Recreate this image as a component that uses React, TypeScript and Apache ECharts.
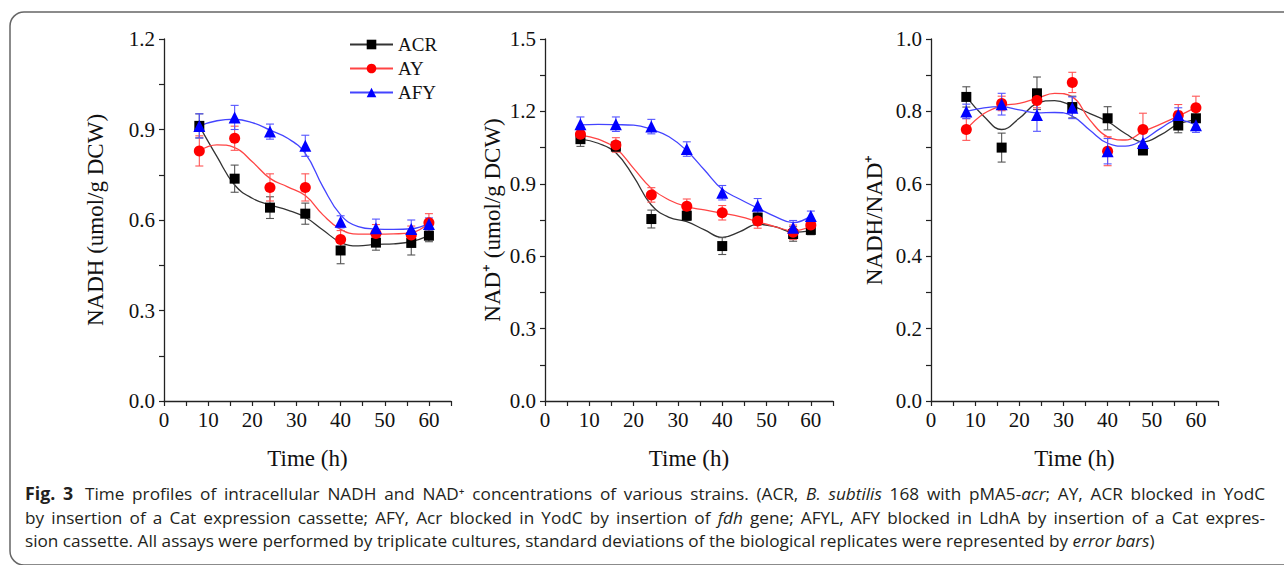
import React, { useEffect, useRef } from "react";
import * as echarts from "echarts";

// ---------- data ----------
const hours = [8, 16, 24, 32, 40, 48, 56, 60];
const curveHours = [8, 12, 16, 20, 24, 28, 32, 36, 40, 44, 48, 52, 56, 60];
const strains = ["ACR", "AY", "AFY"];

// Panel A: NADH (umol/g DCW)
const nadhACR = [0.912, 0.737, 0.641, 0.621, 0.499, 0.525, 0.524, 0.548];
const nadhACRErr = [0.04, 0.045, 0.036, 0.035, 0.044, 0.025, 0.04, 0.02];
const nadhAY = [0.829, 0.871, 0.708, 0.708, 0.535, 0.555, 0.55, 0.591];
const nadhAYErr = [0.05, 0.04, 0.045, 0.045, 0.03, 0.03, 0.03, 0.03];
const nadhAFY = [0.912, 0.94, 0.893, 0.846, 0.594, 0.573, 0.57, 0.587];
const nadhAFYErr = [0.04, 0.04, 0.025, 0.035, 0.02, 0.03, 0.03, 0.02];
const nadhACRFit = [0.912, 0.81, 0.716, 0.672, 0.65, 0.633, 0.609, 0.567, 0.526, 0.514, 0.519, 0.521, 0.528, 0.548];
const nadhAYFit = [0.829, 0.849, 0.84, 0.793, 0.738, 0.71, 0.681, 0.617, 0.569, 0.553, 0.553, 0.554, 0.558, 0.589];
const nadhAFYFit = [0.912, 0.929, 0.934, 0.923, 0.898, 0.871, 0.821, 0.71, 0.617, 0.578, 0.57, 0.569, 0.571, 0.589];

// Panel B: NAD+ (umol/g DCW)
const nadACR = [1.085, 1.054, 0.754, 0.768, 0.642, 0.76, 0.692, 0.709];
const nadACRErr = [0.03, 0.02, 0.037, 0.02, 0.035, 0.03, 0.03, 0.02];
const nadAY = [1.105, 1.061, 0.854, 0.807, 0.78, 0.746, 0.699, 0.729];
const nadAYErr = [0.03, 0.03, 0.03, 0.03, 0.03, 0.03, 0.03, 0.02];
const nadAFY = [1.147, 1.147, 1.137, 1.044, 0.863, 0.809, 0.718, 0.767];
const nadAFYErr = [0.03, 0.03, 0.03, 0.03, 0.03, 0.03, 0.03, 0.02];
const nadACRFit = [1.085, 1.068, 1.029, 0.93, 0.812, 0.761, 0.743, 0.709, 0.678, 0.702, 0.732, 0.722, 0.699, 0.705];
const nadAYFit = [1.102, 1.085, 1.047, 0.964, 0.881, 0.833, 0.805, 0.792, 0.778, 0.764, 0.743, 0.722, 0.705, 0.725];
const nadAFYFit = [1.144, 1.146, 1.145, 1.143, 1.126, 1.095, 1.037, 0.957, 0.877, 0.836, 0.799, 0.764, 0.739, 0.767];

// Panel C: NADH/NAD+
const ratioACR = [0.84, 0.7, 0.85, 0.812, 0.781, 0.692, 0.761, 0.781];
const ratioACRErr = [0.028, 0.04, 0.045, 0.03, 0.032, 0.01, 0.02, 0.025];
const ratioAY = [0.75, 0.822, 0.83, 0.88, 0.69, 0.75, 0.789, 0.81];
const ratioAYErr = [0.03, 0.02, 0.02, 0.028, 0.04, 0.045, 0.03, 0.032];
const ratioAFY = [0.8, 0.82, 0.79, 0.81, 0.69, 0.713, 0.79, 0.762];
const ratioAFYErr = [0.02, 0.03, 0.045, 0.03, 0.035, 0.03, 0.02, 0.02];
const ratioACRFit = [0.84, 0.786, 0.75, 0.781, 0.822, 0.83, 0.815, 0.794, 0.772, 0.739, 0.716, 0.735, 0.765, 0.776];
const ratioAYFit = [0.75, 0.794, 0.815, 0.822, 0.836, 0.85, 0.84, 0.776, 0.73, 0.721, 0.744, 0.765, 0.787, 0.811];
const ratioAFYFit = [0.8, 0.81, 0.813, 0.804, 0.796, 0.797, 0.787, 0.748, 0.712, 0.704, 0.721, 0.753, 0.776, 0.762];

const xTicks = [0, 10, 20, 30, 40, 50, 60];
const yLabelsA = ["0.0", "0.3", "0.6", "0.9", "1.2"];
const yLabelsB = ["0.0", "0.3", "0.6", "0.9", "1.2", "1.5"];
const yLabelsC = ["0.0", "0.2", "0.4", "0.6", "0.8", "1.0"];

// caption: **bold**, *italic*
const captionLines = [
  "**Fig. 3**  Time profiles of intracellular NADH and NAD\u207A concentrations of various strains. (ACR, *B. subtilis* 168 with pMA5-*acr*; AY, ACR blocked in YodC",
  "by insertion of a Cat expression cassette; AFY, Acr blocked in YodC by insertion of *fdh* gene; AFYL, AFY blocked in LdhA by insertion of a Cat expres-",
  "sion cassette. All assays were performed by triplicate cultures, standard deviations of the biological replicates were represented by *error bars*)",
];
const captionJustify = [true, true, false];

// ---------- styling ----------
const SERIF = "Liberation Serif, Times New Roman, serif";
const SANS_CSS = '"Open Sans", "Noto Sans", "DejaVu Sans", sans-serif';
const SANS = "Open Sans, Noto Sans, DejaVu Sans, sans-serif";
const CAP_SIZE = 17.2;
const CAP_LEFT = 25;
const CAP_RIGHT = 1265;
const CAP_Y = [493, 517, 540];
const colors = ["#000000", "#ff0000", "#0000ff"];
const lineColors = ["#333333", "#ff4444", "#4444ff"];
const errColors = ["#555555", "#ff5555", "#5555ff"];
const symbols = ["rect", "circle", "triangle"];
const symbolSizes = [10, 11, 12];

const grids = [
  { left: 164, top: 39, width: 287, height: 362 },
  { left: 545, top: 39, width: 288, height: 362 },
  { left: 931, top: 39, width: 287, height: 362 },
];

const panels = [
  {
    means: [nadhACR, nadhAY, nadhAFY],
    errs: [nadhACRErr, nadhAYErr, nadhAFYErr],
    fits: [nadhACRFit, nadhAYFit, nadhAFYFit],
    max: 1.2, step: 0.15, labels: yLabelsA,
    name: "NADH (umol/g DCW)", nameGap: 57,
  },
  {
    means: [nadACR, nadAY, nadAFY],
    errs: [nadACRErr, nadAYErr, nadAFYErr],
    fits: [nadACRFit, nadAYFit, nadAFYFit],
    max: 1.5, step: 0.15, labels: yLabelsB,
    name: "NAD\u207A (umol/g DCW)", nameGap: 41,
  },
  {
    means: [ratioACR, ratioAY, ratioAFY],
    errs: [ratioACRErr, ratioAYErr, ratioAFYErr],
    fits: [ratioACRFit, ratioAYFit, ratioAFYFit],
    max: 1.0, step: 0.1, labels: yLabelsC,
    name: "NADH/NAD\u207A", nameGap: 45,
  },
];

type Seg = { text: string; bold: boolean; italic: boolean };
type Word = { segs: Seg[]; spaceBefore: number };

function parseLine(line: string): Word[] {
  const words: Word[] = [];
  let bold = false;
  let italic = false;
  let cur: Seg[] = [];
  let buf = "";
  let pendingSpaces = 0;
  const flushSeg = () => {
    if (buf) cur.push({ text: buf, bold, italic });
    buf = "";
  };
  let i = 0;
  while (i < line.length) {
    if (line.startsWith("**", i)) {
      flushSeg();
      bold = !bold;
      i += 2;
    } else if (line[i] === "*") {
      flushSeg();
      italic = !italic;
      i += 1;
    } else if (line[i] === " ") {
      flushSeg();
      if (cur.length) {
        words.push({ segs: cur, spaceBefore: words.length ? pendingSpaces : 0 });
        cur = [];
        pendingSpaces = 0;
      }
      pendingSpaces += 1;
      i += 1;
    } else {
      buf += line[i];
      i += 1;
    }
  }
  flushSeg();
  if (cur.length) words.push({ segs: cur, spaceBefore: words.length ? pendingSpaces : 0 });
  // double spaces count as 1.5 units
  words.forEach((w) => { if (w.spaceBefore > 1) w.spaceBefore = 1.5; });
  return words;
}

function segSize(s: Seg) {
  return s.bold ? CAP_SIZE + 0.6 : CAP_SIZE;
}

function segFont(s: Seg) {
  return `${s.italic ? "italic " : ""}${s.bold ? "bold " : ""}${segSize(s)}px ${SANS_CSS}`;
}

function captionGraphics(): any[] {
  const canvas = document.createElement("canvas");
  const ctx = canvas.getContext("2d")!;
  const measure = (s: Seg) => {
    ctx.font = segFont(s);
    return ctx.measureText(s.text).width;
  };
  ctx.font = `${CAP_SIZE}px ${SANS_CSS}`;
  const spaceW = ctx.measureText(" ").width;
  const out: any[] = [];
  captionLines.forEach((line, li) => {
    const words = parseLine(line);
    const widths = words.map((w) => w.segs.map(measure));
    const wordW = widths.map((ws) => ws.reduce((a, b) => a + b, 0));
    const totalWords = wordW.reduce((a, b) => a + b, 0);
    const totalSpaceUnits = words.reduce((a, w) => a + w.spaceBefore, 0);
    let unit = spaceW;
    if (captionJustify[li] && totalSpaceUnits > 0) {
      unit = (CAP_RIGHT - CAP_LEFT - totalWords) / totalSpaceUnits;
    }
    let x = CAP_LEFT;
    words.forEach((w, wi) => {
      x += w.spaceBefore * unit;
      w.segs.forEach((s, si) => {
        out.push({
          type: "text",
          x,
          y: CAP_Y[li],
          silent: true,
          style: {
            text: s.text,
            fill: "#231f20",
            fontFamily: SANS,
            fontSize: segSize(s),
            fontWeight: s.bold ? "bold" : "normal",
            fontStyle: s.italic ? "italic" : "normal",
            verticalAlign: "middle",
            align: "left",
          },
        });
        x += widths[wi][si];
      });
    });
  });
  return out;
}

function buildOption() {
  const xAxis: any[] = [];
  const yAxis: any[] = [];
  const series: any[] = [];

  panels.forEach((p, pi) => {
    xAxis.push({
      type: "value",
      gridIndex: pi,
      min: 0,
      max: 65,
      interval: 5,
      name: "Time (h)",
      nameLocation: "middle",
      nameGap: 46,
      nameTextStyle: { fontFamily: SERIF, fontSize: 23, color: "#111" },
      axisLine: { show: true, onZero: false, lineStyle: { color: "#222", width: 1.3 } },
      axisTick: { show: true, inside: false, length: 5, lineStyle: { color: "#222", width: 1.2 } },
      axisLabel: {
        margin: 8,
        fontFamily: SERIF,
        fontSize: 21,
        color: "#111",
        formatter: (v: number) => {
          const t = xTicks.indexOf(Math.round(v));
          return t >= 0 && Math.abs(v - xTicks[t]) < 1e-6 ? String(xTicks[t]) : "";
        },
      },
      splitLine: { show: false },
    });
    yAxis.push({
      type: "value",
      gridIndex: pi,
      min: 0,
      max: p.max,
      interval: p.step,
      name: p.name,
      nameLocation: "middle",
      nameGap: p.nameGap,
      nameRotate: 90,
      nameTextStyle: { fontFamily: SERIF, fontSize: 23, color: "#111" },
      axisLine: { show: true, onZero: false, lineStyle: { color: "#222", width: 1.3 } },
      axisTick: { show: true, inside: false, length: 5, lineStyle: { color: "#222", width: 1.2 } },
      axisLabel: {
        margin: 9,
        fontFamily: SERIF,
        fontSize: 21,
        color: "#111",
        formatter: (v: number) => {
          const k = Math.round(v / p.step);
          return k % 2 === 0 ? p.labels[k / 2] ?? "" : "";
        },
      },
      splitLine: { show: false },
    });

    strains.forEach((s, si) => {
      series.push({
        type: "line",
        name: s,
        xAxisIndex: pi,
        yAxisIndex: pi,
        data: curveHours.map((h, i) => [h, p.fits[si][i]]),
        smooth: 0.45,
        symbol: symbols[si],
        showSymbol: false,
        lineStyle: { color: lineColors[si], width: 1.3 },
        itemStyle: { color: colors[si] },
        z: 2,
        silent: true,
      });
      series.push({
        type: "custom",
        name: s + " error",
        xAxisIndex: pi,
        yAxisIndex: pi,
        data: hours.map((h, i) => [h, p.means[si][i] - p.errs[si][i], p.means[si][i] + p.errs[si][i]]),
        encode: { x: 0, y: [1, 2] },
        z: 3,
        silent: true,
        renderItem: (params: any, api: any) => {
          const x = api.value(0);
          const lo = api.coord([x, api.value(1)]);
          const hi = api.coord([x, api.value(2)]);
          const w = 4;
          const st = { stroke: errColors[si], lineWidth: 1.1 };
          return {
            type: "group",
            children: [
              { type: "line", shape: { x1: hi[0], y1: hi[1], x2: lo[0], y2: lo[1] }, style: st },
              { type: "line", shape: { x1: hi[0] - w, y1: hi[1], x2: hi[0] + w, y2: hi[1] }, style: st },
              { type: "line", shape: { x1: lo[0] - w, y1: lo[1], x2: lo[0] + w, y2: lo[1] }, style: st },
            ],
          };
        },
      });
      series.push({
        type: "scatter",
        name: s + " points",
        xAxisIndex: pi,
        yAxisIndex: pi,
        data: hours.map((h, i) => [h, p.means[si][i]]),
        symbol: symbols[si],
        symbolSize: symbolSizes[si],
        itemStyle: { color: colors[si], opacity: 1 },
        z: 4,
        silent: true,
      });
    });
  });

  const graphic: any[] = [
    {
      type: "rect",
      shape: { x: 10, y: 12, width: 1300, height: 553, r: 14 },
      style: { fill: "none", stroke: "#666", lineWidth: 1.5 },
      silent: true,
      z: 0,
    },
    ...captionGraphics(),
  ];

  return {
    animation: false,
    backgroundColor: "#ffffff",
    grid: grids.map((g) => ({ ...g, containLabel: false })),
    legend: {
      data: strains,
      orient: "vertical",
      left: 349,
      top: 35,
      padding: 0,
      itemWidth: 43,
      itemHeight: 12,
      itemGap: 5,
      selectedMode: false,
      textStyle: { fontFamily: SERIF, fontSize: 19, color: "#111", lineHeight: 18 },
    },
    xAxis,
    yAxis,
    series,
    graphic,
  };
}

export default function App() {
  const ref = useRef<HTMLDivElement>(null);
  useEffect(() => {
    if (!ref.current) return;
    const chart = echarts.init(ref.current, undefined, { renderer: "svg" });
    chart.setOption(buildOption() as any);
    return () => chart.dispose();
  }, []);
  return (
    <div
      ref={ref}
      style={{ position: "absolute", left: 0, top: 0, width: 1284, height: 565, background: "#fff" }}
    />
  );
}
